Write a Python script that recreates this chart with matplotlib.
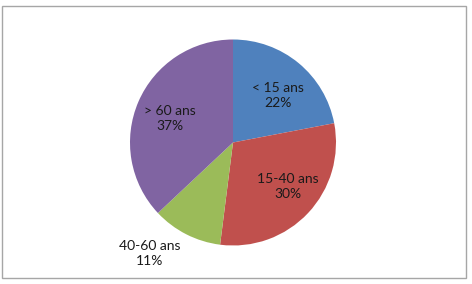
import matplotlib
matplotlib.use("Agg")
import matplotlib.pyplot as plt
from matplotlib.patches import Rectangle

categories = ["< 15 ans", "15-40 ans", "40-60 ans", "> 60 ans"]
values = [22, 30, 11, 37]
colors = ["#4F81BD", "#C0504D", "#9BBB59", "#8064A2"]
# label centres relative to pie centre, in units of the radius
label_pos = [(0.44, 0.46), (0.53, -0.43), (-0.81, -1.08), (-0.61, 0.23)]

W, H = 472, 284
fig = plt.figure(figsize=(W / 100, H / 100), dpi=100)
fig.patch.set_facecolor("white")

cx, cy, r = 233, 142.5, 103
half = 160
ax = fig.add_axes([(cx - half) / W, (H - cy - half) / H, 2 * half / W, 2 * half / H])
ax.pie(values, colors=colors, startangle=90, counterclock=False, radius=1,
       wedgeprops=dict(linewidth=0))
lim = half / r
ax.set_xlim(-lim, lim)
ax.set_ylim(-lim, lim)
ax.axis("off")

for cat, v, (lx, ly) in zip(categories, values, label_pos):
    ax.text(lx, ly, f"{cat}\n{v}%", ha="center", va="center", fontsize=10,
            family=["Lato", "DejaVu Sans"], color="#1a1a1a", linespacing=1.3)

fig.patches.append(Rectangle((1.5 / W, (H - 278) / H), 464.5 / W, 272 / H,
                             transform=fig.transFigure, fill=False,
                             edgecolor="#A6A6A6", linewidth=1))

fig.savefig("out.png", dpi=100)
